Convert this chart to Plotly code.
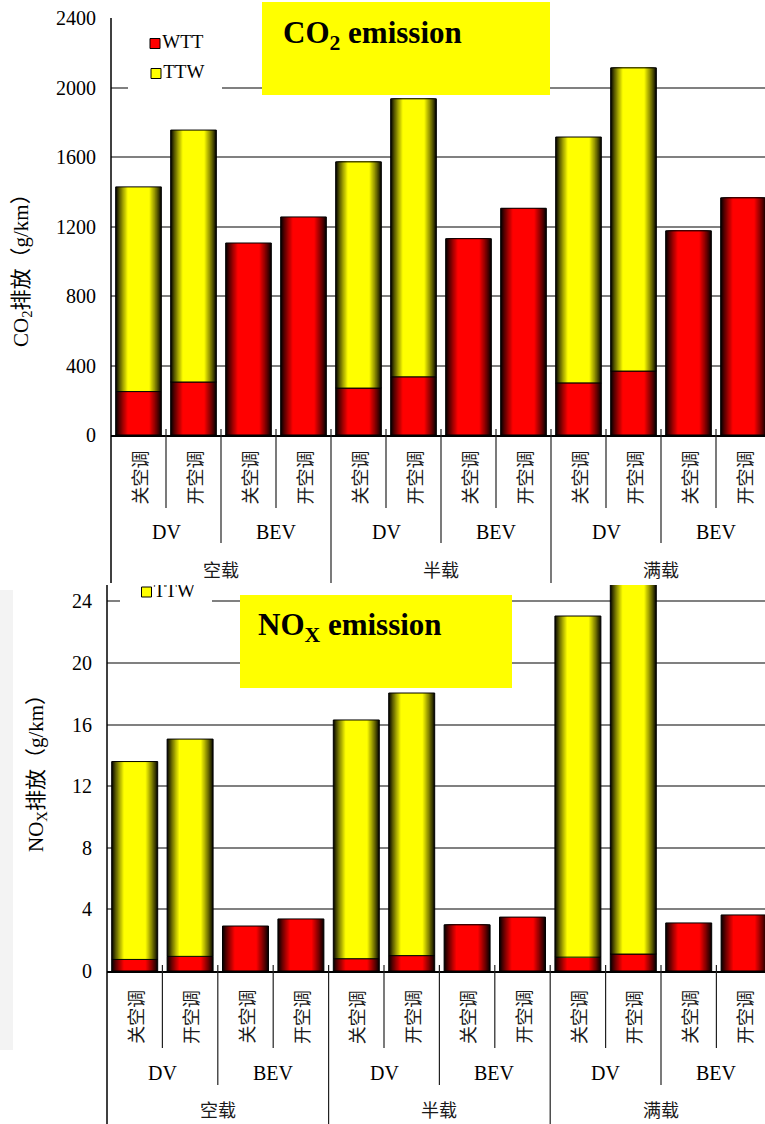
import plotly.graph_objects as go

# ---- data -------------------------------------------------------------
ac_labels = ["关空调", "开空调"] * 6
vehicle_labels = ["DV", "BEV"] * 3
load_labels = ["空载", "半载", "满载"]

co2_wtt = [250, 305, 1105, 1255, 270, 335, 1130, 1305, 300, 368, 1175, 1365]
co2_ttw = [1178, 1450, 0, 0, 1302, 1600, 0, 0, 1415, 1745, 0, 0]

nox_wtt = [0.75, 0.95, 2.92, 3.38, 0.80, 1.00, 3.00, 3.50, 0.90, 1.10, 3.12, 3.64]
nox_ttw = [12.85, 14.11, 0, 0, 15.50, 17.05, 0, 0, 22.15, 25.40, 0, 0]

series_names = ["WTT", "TTW"]

# ---- page geometry (pixels) ---------------------------------------------
W, H = 765, 1124
SERIF = "Liberation Serif"
CJK = "Noto Sans CJK SC"
MIXED = "Liberation Serif, Noto Sans CJK SC"
RED = (255, 0, 0)
YELLOW = (255, 255, 0)
BAR_W = 0.83
N_SHADE = 16

TOP = dict(left=111, top=18, axis=435, cat=55.0, ymax=2400, dtick=400,
           l1=508, l2=543, l3=583, ac_y=478, veh_y=532, load_y=569)
BOT = dict(left=107, top=585, axis=971, cat=55.4, ymax=None, dtick=4,
           l1=1048, l2=1085, l3=1124, ac_y=1017, veh_y=1073, load_y=1109)
BOT_PX_PER_UNIT = 15.4
BOT["ymax"] = (BOT["axis"] - BOT["top"]) / BOT_PX_PER_UNIT


def px(x):
    return x / W


def py(y):
    return 1 - y / H


def to_data(g, xp, yp):
    x = (xp - g["left"]) / g["cat"] - 0.5
    y = (g["axis"] - yp) / (g["axis"] - g["top"]) * g["ymax"]
    return x, y


fig = go.Figure()


def shade(rgb, b):
    return "rgb({},{},{})".format(int(rgb[0] * b), int(rgb[1] * b), int(rgb[2] * b))


def add_stack(wtt, ttw, xa, ya):
    idx = list(range(len(wtt)))
    ttw_vals = [v if v else None for v in ttw]
    segments = [(wtt, [0] * len(wtt), RED), (ttw_vals, wtt, YELLOW)]
    for heights, bases, rgb in segments:
        # cylinder-like shading: nested bars, dark at the edges
        for k in range(N_SHADE):
            t = k / (N_SHADE - 1)
            b = 0.03 + 0.97 * t ** 0.9
            fig.add_trace(go.Bar(
                x=idx, y=heights, base=bases, width=BAR_W * (1 - 0.52 * t),
                marker=dict(color=shade(rgb, b), line=dict(width=0), opacity=1),
                xaxis=xa, yaxis=ya, showlegend=False, hoverinfo="skip"))
        fig.add_trace(go.Bar(
            x=idx, y=heights, base=bases, width=BAR_W,
            marker=dict(color="rgba(0,0,0,0)", line=dict(color="black", width=1)),
            xaxis=xa, yaxis=ya, showlegend=False, hoverinfo="skip"))


add_stack(co2_wtt, co2_ttw, "x", "y")
add_stack(nox_wtt, nox_ttw, "x2", "y2")

shapes = []
annotations = []

# ---- legend keys --------------------------------------------------------
def legend_item(g, xa, ya, xp, yp, name, rgb):
    x, y = to_data(g, xp, yp)
    fig.add_trace(go.Scatter(
        x=[x], y=[y], mode="markers+text", text=[name], textposition="middle right",
        textfont=dict(family=SERIF, size=19, color="black"),
        marker=dict(symbol="square", size=10, color=shade(rgb, 1),
                    line=dict(color="black", width=1)),
        cliponaxis=True, xaxis=xa, yaxis=ya, showlegend=False, hoverinfo="skip"))


def legend_box(g, xa, ya, x0p, x1p, y0p, y1p):
    x0, y0 = to_data(g, x0p, y1p)
    x1, y1 = to_data(g, x1p, y0p)
    shapes.append(dict(type="rect", xref=xa, yref=ya, x0=x0, x1=x1, y0=y0, y1=y1,
                       fillcolor="white", line=dict(width=0), layer="between"))


legend_box(TOP, "x", "y", 128, 222, 26, 94)
legend_item(TOP, "x", "y", 155, 43.5, series_names[0], RED)
legend_item(TOP, "x", "y", 156, 73.5, series_names[1], YELLOW)

# lower panel: only the TTW key remains inside its (clipped) plot area
legend_box(BOT, "x2", "y2", 120, 212, 580, 607)
legend_item(BOT, "x2", "y2", 146.5, 592, series_names[1], YELLOW)

# ---- category axis decorations -------------------------------------------
def category_axis(g, xa):
    # left axis line running through the label rows
    shapes.append(dict(type="line", xref="paper", yref="paper",
                       x0=px(g["left"]), x1=px(g["left"]),
                       y0=py(g["top"]), y1=py(g["l3"]),
                       line=dict(color="black", width=1.5)))
    for k in range(len(ac_labels) - 1):
        b = k + 1
        if b % 4 == 0:
            bottom = g["l3"]
        elif b % 2 == 0:
            bottom = g["l2"]
        else:
            bottom = g["l1"]
        shapes.append(dict(type="line", xref=xa, yref="paper",
                           x0=k + 0.5, x1=k + 0.5,
                           y0=py(g["axis"] - 6), y1=py(bottom),
                           line=dict(color="#222222", width=1.2)))
    for i, lab in enumerate(ac_labels):
        annotations.append(dict(xref=xa, yref="paper", x=i, y=py(g["ac_y"]),
                                text=lab, textangle=-90, showarrow=False,
                                xanchor="center", yanchor="middle",
                                font=dict(family=CJK, size=18, color="#1a1a1a")))
    for j, lab in enumerate(vehicle_labels):
        annotations.append(dict(xref=xa, yref="paper", x=2 * j + 0.5, y=py(g["veh_y"]),
                                text=lab, showarrow=False,
                                xanchor="center", yanchor="middle",
                                font=dict(family=SERIF, size=20, color="black")))
    for j, lab in enumerate(load_labels):
        annotations.append(dict(xref=xa, yref="paper", x=4 * j + 1.5, y=py(g["load_y"]),
                                text=lab, showarrow=False, borderpad=0,
                                xanchor="center", yanchor="middle",
                                font=dict(family=CJK, size=18, color="#1a1a1a")))


category_axis(TOP, "x")
category_axis(BOT, "x2")

# ---- title boxes ---------------------------------------------------------
shapes.append(dict(type="rect", xref="paper", yref="paper",
                   x0=px(262), x1=px(550), y0=py(95), y1=py(2),
                   fillcolor="#ffff00", line=dict(width=0), layer="above"))
shapes.append(dict(type="rect", xref="paper", yref="paper",
                   x0=px(240), x1=px(512), y0=py(688), y1=py(595),
                   fillcolor="#ffff00", line=dict(width=0), layer="above"))
annotations.append(dict(xref="paper", yref="paper", x=px(281), y=py(35),
                        text="<b>CO<sub>2</sub> emission</b>", showarrow=False,
                        xanchor="left", yanchor="middle",
                        font=dict(family=SERIF, size=31, color="black")))
annotations.append(dict(xref="paper", yref="paper", x=px(256), y=py(627),
                        text="<b>NO<sub>X</sub> emission</b>", showarrow=False,
                        xanchor="left", yanchor="middle",
                        font=dict(family=SERIF, size=31, color="black")))

# ---- value-axis titles -----------------------------------------------------
annotations.append(dict(xref="paper", yref="paper", x=px(22), y=py(265),
                        text="CO<sub>2</sub>排放（g/km）", textangle=-90, showarrow=False,
                        xanchor="center", yanchor="middle",
                        font=dict(family=MIXED, size=21, color="black")))
annotations.append(dict(xref="paper", yref="paper", x=px(37), y=py(768),
                        text="NO<sub>X</sub>排放（g/km）", textangle=-90, showarrow=False,
                        xanchor="center", yanchor="middle",
                        font=dict(family=MIXED, size=21, color="black")))

# faint grey band along the left edge of the lower panel
shapes.append(dict(type="rect", xref="paper", yref="paper",
                   x0=0, x1=px(13), y0=py(1050), y1=py(590),
                   fillcolor="#f3f3f3", line=dict(width=0), layer="below"))


def x_axis(g, anchor):
    return dict(domain=[px(g["left"]), 1],
                range=[-0.5, -0.5 + (W - g["left"]) / g["cat"]],
                showgrid=False, zeroline=False, showticklabels=False, ticks="",
                showline=True, linecolor="black", linewidth=1.5,
                automargin=False, anchor=anchor, fixedrange=True)


def y_axis(g, anchor):
    return dict(domain=[py(g["axis"]), py(g["top"])],
                range=[0, g["ymax"]], dtick=g["dtick"], tick0=0,
                showgrid=True, gridcolor="#808080", gridwidth=1.5,
                zeroline=False, showline=False, ticks="",
                ticklabelstandoff=14,
                tickfont=dict(family=SERIF, size=20, color="black"),
                automargin=False, anchor=anchor, fixedrange=True)


fig.update_layout(
    width=W, height=H,
    margin=dict(l=0, r=0, t=0, b=0, autoexpand=False),
    paper_bgcolor="white", plot_bgcolor="white",
    barmode="overlay",
    showlegend=False,
    xaxis=x_axis(TOP, "y"),
    yaxis=y_axis(TOP, "x"),
    xaxis2=x_axis(BOT, "y2"),
    yaxis2=y_axis(BOT, "x2"),
    shapes=shapes,
    annotations=annotations,
)

fig.write_html("out.html")
